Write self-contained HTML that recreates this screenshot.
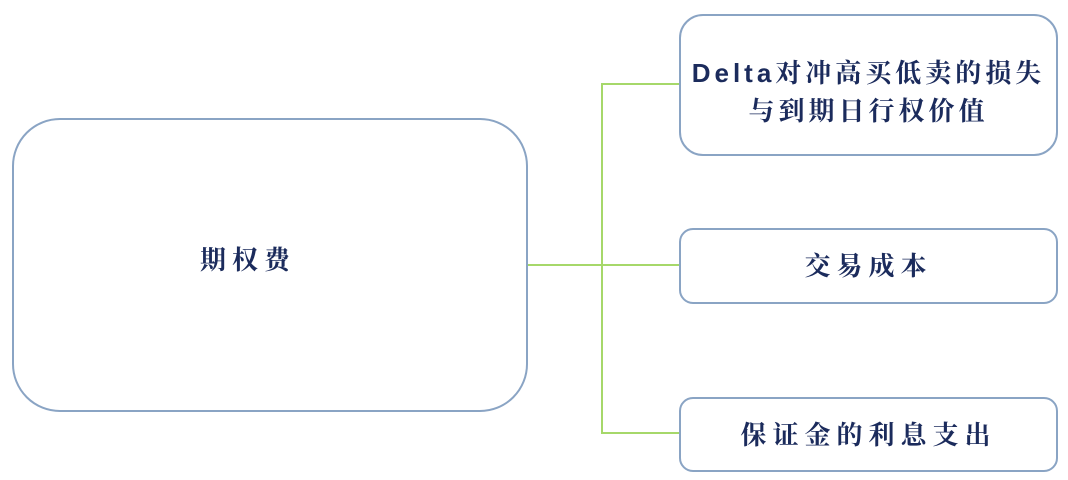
<!DOCTYPE html>
<html><head><meta charset="utf-8"><style>
body{margin:0;width:1068px;height:480px;background:#fff;position:relative;overflow:hidden;font-family:"Liberation Sans","Noto Serif CJK SC","Noto Sans CJK SC",sans-serif;}
.b{position:absolute;border:2px solid #8aa4c4;background:#fff;box-sizing:border-box;display:flex;align-items:center;justify-content:center;text-align:center;color:#1b2b5c;font-weight:bold;font-size:26px;letter-spacing:6px;line-height:38px}
.l{position:absolute;background:#a6d86a}
</style></head><body>
<div class="l" style="left:527px;top:264px;width:152px;height:2px"></div>
<div class="l" style="left:601px;top:83px;width:2px;height:351px"></div>
<div class="l" style="left:601px;top:83px;width:78px;height:2px"></div>
<div class="l" style="left:601px;top:432px;width:78px;height:2px"></div>
<div class="b" style="left:12px;top:118px;width:516px;height:294px;border-radius:48px;padding-right:44px;padding-bottom:10px">期权费</div>
<div class="b" style="left:679px;top:14px;width:379px;height:142px;border-radius:24px;letter-spacing:4px;padding-top:14px;white-space:nowrap">Delta对冲高买低卖的损失<br>与到期日行权价值</div>
<div class="b" style="left:679px;top:228px;width:379px;height:76px;border-radius:14px">交易成本</div>
<div class="b" style="left:679px;top:397px;width:379px;height:75px;border-radius:14px">保证金的利息支出</div>
</body></html>
